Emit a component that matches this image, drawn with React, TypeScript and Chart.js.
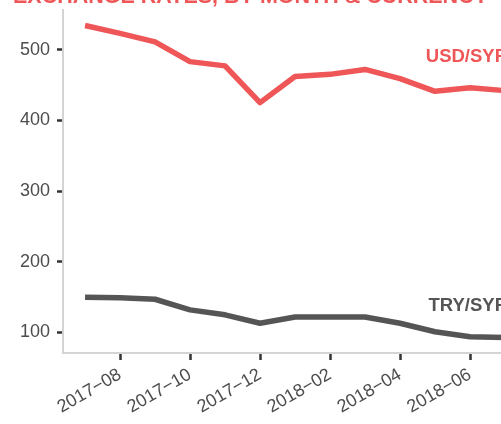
import React, { useEffect, useRef } from "react";
import { Chart, registerables } from "chart.js";

Chart.register(...registerables);

const months = [
  "2017−07", "2017−08", "2017−09", "2017−10", "2017−11", "2017−12",
  "2018−01", "2018−02", "2018−03", "2018−04", "2018−05", "2018−06", "2018−07",
];
const usdSyp = [534, 523, 511, 483, 477, 425, 462, 465, 472, 459, 441, 446, 442];
const trySyp = [150, 149, 147, 132, 125, 113, 122, 122, 122, 113, 101, 94, 93];
const seriesNames = ["USD/SYP", "TRY/SYP"];
const seriesLabelValues = [490, 137];
const yTicks = [100, 200, 300, 400, 500];
const xTickIndex = [1, 3, 5, 7, 9, 11];
const title = "EXCHANGE RATES, BY MONTH & CURRENCY";

const RED = "#ef5658";
const DARK = "#555555";
const TEXT = "#4d4d4d";

export default function App() {
  const ref = useRef<HTMLCanvasElement>(null);
  useEffect(() => {
    if (!ref.current) return;
    const colors = [RED, DARK];
    const labelPlugin = {
      id: "labels",
      afterDatasetsDraw(chart: any) {
        const ctx = chart.ctx;
        const xs = chart.scales.x;
        const ys = chart.scales.y;
        ctx.save();
        ctx.font = "bold 18.5px 'Liberation Sans', Arial, sans-serif";
        ctx.textAlign = "right";
        ctx.textBaseline = "middle";
        seriesNames.forEach((n, i) => {
          ctx.fillStyle = colors[i];
          ctx.fillText(n, xs.getPixelForValue(months.length - 1) + 2, ys.getPixelForValue(seriesLabelValues[i]));
        });
        ctx.font = "bold 21.5px 'Liberation Sans', Arial, sans-serif";
        ctx.textAlign = "left";
        ctx.textBaseline = "alphabetic";
        ctx.fillStyle = RED;
        ctx.fillText(title, 13, 33);
        ctx.restore();
      },
    };
    const mk = (vals: number[]) => vals.map((v, i) => ({ x: i, y: v }));
    const chart = new Chart(ref.current, {
      type: "line",
      data: {
        datasets: [
          { label: seriesNames[0], data: mk(usdSyp), borderColor: RED, borderWidth: 5.5, pointRadius: 0, borderJoinStyle: "round", tension: 0 },
          { label: seriesNames[1], data: mk(trySyp), borderColor: DARK, borderWidth: 5.5, pointRadius: 0, borderJoinStyle: "round", tension: 0 },
        ],
      },
      options: {
        responsive: false,
        animation: false,
        layout: { padding: { top: 40, left: 0, right: 34, bottom: 0 } },
        plugins: { legend: { display: false }, tooltip: { enabled: false }, title: { display: false } },
        scales: {
          x: {
            type: "linear",
            min: -0.63,
            max: 12.6,
            afterBuildTicks: (s: any) => { s.ticks = xTickIndex.map((v) => ({ value: v })); },
            afterFit: (s: any) => { s.height = 71; },
            ticks: {
              callback: (v: any) => months[v as number],
              maxRotation: 30,
              minRotation: 30,
              color: TEXT,
              padding: 4,
              font: { family: "'Liberation Sans', Arial, sans-serif", size: 18 },
            },
            grid: { drawOnChartArea: false, drawTicks: true, tickLength: 7, tickColor: "#333333", tickWidth: 2.5 },
            border: { color: "#d4d4d4", width: 2 },
          },
          y: {
            min: 71,
            max: 556,
            afterBuildTicks: (s: any) => { s.ticks = yTicks.map((v) => ({ value: v })); },
            afterFit: (s: any) => { s.width = 63; },
            ticks: {
              color: TEXT,
              padding: 7,
              font: { family: "'Liberation Sans', Arial, sans-serif", size: 18 },
            },
            grid: { drawOnChartArea: false, drawTicks: true, tickLength: 6, tickColor: "#333333", tickWidth: 2.5 },
            border: { color: "#d4d4d4", width: 2 },
          },
        },
      },
      plugins: [labelPlugin],
    } as any);
    return () => chart.destroy();
  }, []);
  return (
    <div style={{ position: "fixed", top: 0, left: 0, width: 501, height: 424, overflow: "hidden", background: "#fff" }}>
      <canvas ref={ref} width={560} height={454} style={{ position: "absolute", top: -30, left: 0, width: 560, height: 454 }} />
    </div>
  );
}
